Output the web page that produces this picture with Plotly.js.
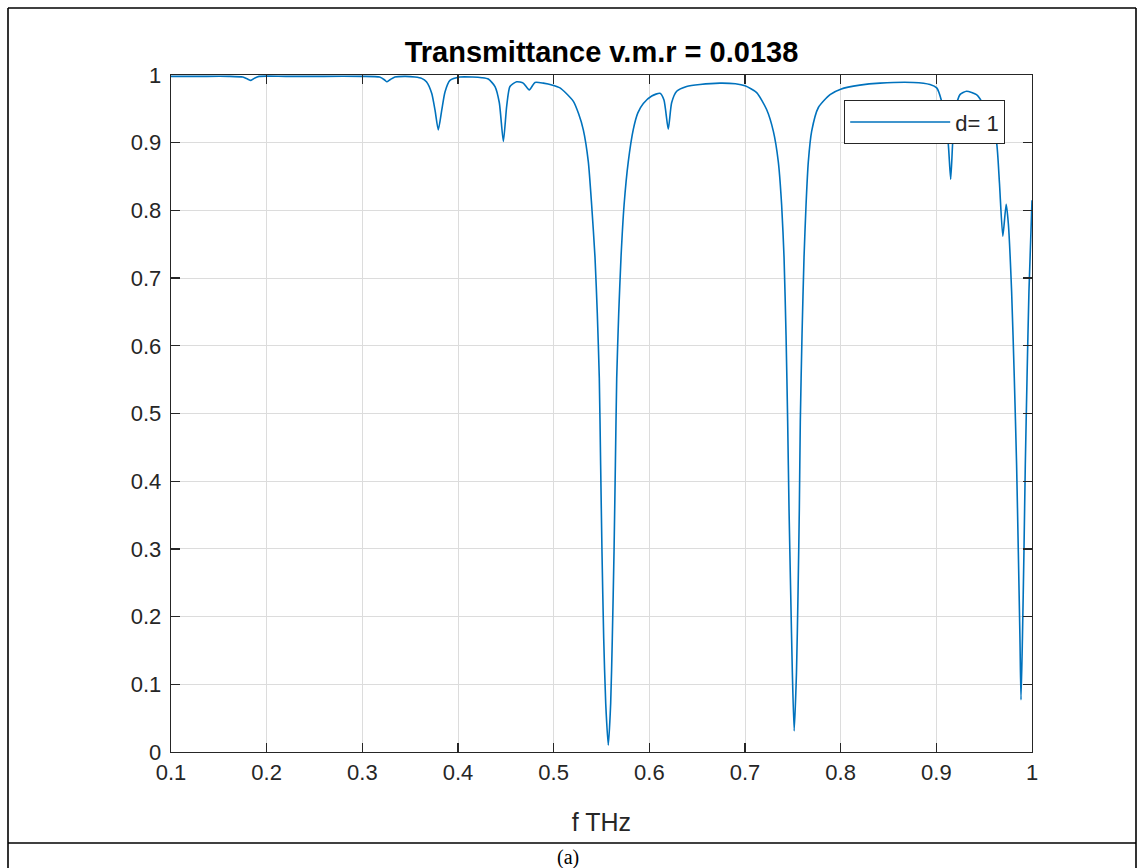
<!DOCTYPE html>
<html>
<head>
<meta charset="utf-8">
<script src="https://cdn.plot.ly/plotly-3.0.1.min.js"></script>
<style>html,body{margin:0;padding:0;background:#fff;}#chart{width:1137px;height:868px;}</style>
</head>
<body>
<div id="chart"></div>
<script>
// Frequency (THz) and transmittance values
const freqTHz = [
  0.100, 0.130, 0.160, 0.175, 0.180, 0.1835, 0.187, 0.192, 0.220, 0.260,
  0.300, 0.318, 0.323, 0.3255, 0.329, 0.334, 0.345, 0.355, 0.362, 0.367,
  0.3725, 0.376, 0.3794, 0.383, 0.3864, 0.3916, 0.402, 0.415, 0.425, 0.4317,
  0.4387, 0.4432, 0.4474, 0.4509, 0.4543, 0.4613, 0.4682, 0.4745, 0.4805, 0.4892,
  0.499, 0.5066, 0.513, 0.5206, 0.526, 0.531, 0.5362, 0.5397, 0.5432, 0.5456,
  0.5477, 0.5491, 0.5505, 0.5523, 0.5544, 0.5571, 0.5596, 0.5613, 0.5631, 0.5645,
  0.5659, 0.568, 0.5704, 0.5736, 0.578, 0.5833, 0.588, 0.5937, 0.6025, 0.6111,
  0.6153, 0.6198, 0.6233, 0.6286, 0.639, 0.6529, 0.6738, 0.690, 0.700, 0.7122,
  0.7226, 0.7296, 0.7348, 0.7383, 0.7408, 0.7429, 0.7446, 0.746, 0.7478, 0.7495,
  0.7514, 0.7538, 0.7554, 0.7568, 0.7578, 0.7596, 0.7617, 0.7638, 0.7662, 0.7697,
  0.7767, 0.7889, 0.800, 0.820, 0.8411, 0.8759, 0.8934, 0.9004, 0.9054, 0.909,
  0.9125, 0.915, 0.917, 0.9195, 0.9247, 0.9316, 0.942, 0.9456, 0.953, 0.959,
  0.963, 0.966, 0.9695, 0.973, 0.9753, 0.9787, 0.9815, 0.9839, 0.9857, 0.9874,
  0.9885, 0.990, 0.9916, 0.993, 0.9948, 0.9968, 1.000
];
const transmittance = [
  0.998, 0.998, 0.998, 0.997, 0.994, 0.992, 0.995, 0.998, 0.998, 0.998,
  0.998, 0.997, 0.993, 0.990, 0.993, 0.997, 0.998, 0.997, 0.995, 0.990,
  0.973, 0.948, 0.919, 0.948, 0.975, 0.992, 0.997, 0.997, 0.996, 0.994,
  0.983, 0.959, 0.902, 0.954, 0.983, 0.990, 0.988, 0.978, 0.989, 0.988,
  0.985, 0.981, 0.973, 0.961, 0.943, 0.919, 0.872, 0.808, 0.731, 0.648,
  0.552, 0.424, 0.296, 0.168, 0.072, 0.010, 0.072, 0.168, 0.296, 0.424,
  0.552, 0.648, 0.731, 0.808, 0.872, 0.920, 0.944, 0.958, 0.969, 0.973,
  0.963, 0.920, 0.959, 0.976, 0.983, 0.986, 0.988, 0.987, 0.984, 0.974,
  0.949, 0.917, 0.872, 0.808, 0.731, 0.616, 0.488, 0.360, 0.232, 0.117,
  0.031, 0.117, 0.232, 0.360, 0.488, 0.616, 0.731, 0.808, 0.872, 0.917,
  0.952, 0.971, 0.979, 0.985, 0.988, 0.989, 0.986, 0.981, 0.962, 0.935,
  0.898, 0.846, 0.898, 0.945, 0.971, 0.976, 0.971, 0.965, 0.945, 0.920,
  0.900, 0.840, 0.762, 0.809, 0.780, 0.680, 0.552, 0.424, 0.296, 0.168,
  0.077, 0.168, 0.296, 0.424, 0.552, 0.680, 0.815
];
const seriesName = "d= 1";
const chartTitle = "Transmittance v.m.r = 0.0138";
const xLabel = "f THz";
const caption = "(a)";
const xTicks = [0.1, 0.2, 0.3, 0.4, 0.5, 0.6, 0.7, 0.8, 0.9, 1];
const xTickText = ["0.1", "0.2", "0.3", "0.4", "0.5", "0.6", "0.7", "0.8", "0.9", "1"];
const yTicks = [0, 0.1, 0.2, 0.3, 0.4, 0.5, 0.6, 0.7, 0.8, 0.9, 1];
const yTickText = ["0", "0.1", "0.2", "0.3", "0.4", "0.5", "0.6", "0.7", "0.8", "0.9", "1"];

// layout geometry (pixels)
const W = 1137, H = 868;
const L = 171, R = 1032, T = 75, B = 752;
const pw = R - L, ph = B - T;
const px = x => (x - L) / pw;
const py = y => (B - y) / ph;

const font = '"Liberation Sans", Arial, Helvetica, sans-serif';
const axisCol = '#262626';

const trace = {
  x: freqTHz, y: transmittance, type: 'scatter', mode: 'lines',
  name: seriesName, line: {color: '#0072BD', width: 1.6, shape: 'spline', smoothing: 0.6}
};

const frame = {type: 'line', xref: 'paper', yref: 'paper', line: {color: '#000', width: 1.6}};
const layout = {
  width: W, height: H,
  margin: {l: L, r: W - R, t: T, b: H - B, pad: 0},
  paper_bgcolor: '#fff', plot_bgcolor: '#fff',
  font: {family: font, color: axisCol, size: 22},
  title: {text: '<b>' + chartTitle + '</b>', font: {family: font, size: 29, color: '#000'},
          xref: 'paper', x: 0.5, xanchor: 'center', yref: 'container', y: 1 - 52 / H, yanchor: 'middle'},
  xaxis: {
    range: [0.1, 1], tickvals: xTicks, ticktext: xTickText,
    ticks: 'inside', ticklen: 9, tickwidth: 1.3, tickcolor: axisCol,
    showline: true, linecolor: axisCol, linewidth: 1.3, mirror: 'ticks',
    showgrid: true, gridcolor: '#dcdcdc', gridwidth: 1, zeroline: false,
    tickfont: {size: 22, color: axisCol},
    title: {text: xLabel, font: {size: 25, color: axisCol}, standoff: 29},
    automargin: false
  },
  yaxis: {
    range: [0, 1], tickvals: yTicks, ticktext: yTickText,
    ticks: 'inside', ticklen: 9, tickwidth: 1.3, tickcolor: axisCol,
    showline: true, linecolor: axisCol, linewidth: 1.3, mirror: 'ticks',
    showgrid: true, gridcolor: '#dcdcdc', gridwidth: 1, zeroline: false,
    tickfont: {size: 22, color: axisCol}, ticklabelstandoff: 4,
    automargin: false
  },
  showlegend: true,
  legend: {
    x: px(1005), xanchor: 'right', y: py(100), yanchor: 'top',
    bgcolor: '#fff', bordercolor: axisCol, borderwidth: 1.2,
    font: {size: 22, color: axisCol}, itemwidth: 100
  },
  shapes: [
    Object.assign({x0: px(8), x1: px(8), y0: py(8), y1: py(868)}, frame),
    Object.assign({x0: px(1136), x1: px(1136), y0: py(8), y1: py(868)}, frame),
    Object.assign({x0: px(8), x1: px(1136), y0: py(8), y1: py(8)}, frame),
    Object.assign({x0: px(8), x1: px(1136), y0: py(843), y1: py(843)}, frame)
  ],
  annotations: [
    {text: caption, xref: 'paper', yref: 'paper', x: px(568), y: py(857), xanchor: 'center', yanchor: 'middle',
     showarrow: false, font: {family: '"Liberation Serif", "Times New Roman", serif', size: 20, color: '#000'}}
  ]
};

Plotly.newPlot('chart', [trace], layout, {displayModeBar: false, staticPlot: true});
</script>
</body>
</html>
